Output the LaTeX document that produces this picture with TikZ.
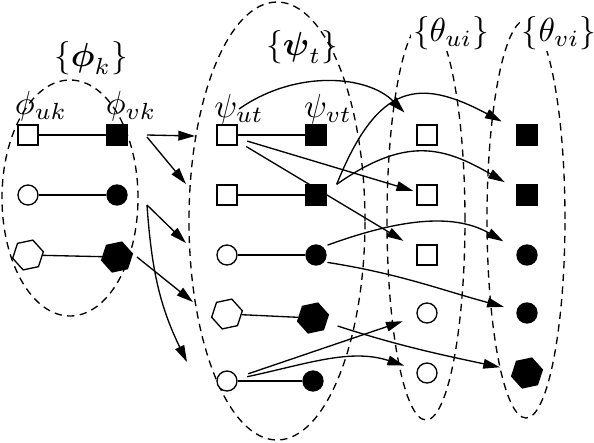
\documentclass[tikz,border=0pt]{standalone}
\usepackage{tikz}
\usetikzlibrary{shapes.geometric, arrows.meta}
\usepackage{amsmath}
\usepackage{amssymb}

\begin{document}
\begin{tikzpicture}[x=0.3pt, y=0.3pt,
  usq/.style={rectangle, draw, fill=white, minimum size=6pt, inner sep=0pt},
  vsq/.style={usq, fill=black},
  ucirc/.style={circle, draw, fill=white, minimum size=6pt, inner sep=0pt},
  vcirc/.style={ucirc, fill=black},
  uhex/.style={regular polygon, regular polygon sides=6, shape border rotate=12,
               draw, fill=white, minimum size=9.4pt, inner sep=0pt},
  vhex/.style={uhex, fill=black},
  setline/.style={dash pattern=on 2.2pt off 1.6pt},
  settitle/.style={fill=white, inner sep=0.5pt},
  arr/.style={-{Triangle[length=5pt, width=2.9pt]}, shorten >=4pt},
]
  \useasboundingbox (0,0) rectangle (594,-442);

  % the four sets
  \draw[setline] (70,-198) ellipse [x radius=68, y radius=118];
  \draw[setline] (277,-221) ellipse [x radius=88, y radius=219];
  \draw[setline] (426,-220) ellipse [x radius=39, y radius=200];
  \draw[setline] (526,-219) ellipse [x radius=39, y radius=199];

  \node (lphi) at (91,-58) {$\{\boldsymbol{\phi}_k\}$};
  \node (lphiu) at (41,-106) {$\phi_{uk}$};
  \node (lphiv) at (131,-106) {$\phi_{vk}$};
  \node (lpsi) at (302,-47) {$\{\boldsymbol{\psi}_t\}$};
  \node (lpsiu) at (239,-109) {$\psi_{ut}$};
  \node (lpsiv) at (328,-109) {$\psi_{vt}$};
  \node[settitle] (lthu) at (451,-33) {$\{\theta_{ui}\}$};
  \node[settitle] (lthv) at (559,-33) {$\{\theta_{vi}\}$};

  % phi pairs
  \node[usq] (phiu1) at (28,-135) {};
  \node[vsq] (phiv1) at (117,-135) {};
  \node[ucirc] (phiu2) at (28,-195) {};
  \node[vcirc] (phiv2) at (117,-195) {};
  \node[uhex] (phiu3) at (28,-255) {};
  \node[vhex] (phiv3) at (117,-257) {};

  % psi pairs
  \node[usq] (psiu1) at (227,-135) {};
  \node[vsq] (psiv1) at (316,-135) {};
  \node[usq] (psiu2) at (227,-195) {};
  \node[vsq] (psiv2) at (316,-195) {};
  \node[ucirc] (psiu3) at (227,-255) {};
  \node[vcirc] (psiv3) at (316,-255) {};
  \node[uhex] (psiu4) at (227,-314) {};
  \node[vhex] (psiv4) at (313,-318) {};
  \node[ucirc] (psiu5) at (227,-381) {};
  \node[vcirc] (psiv5) at (313,-381) {};

  % theta
  \node[usq] (thu1) at (427,-135) {};
  \node[usq] (thu2) at (427,-195) {};
  \node[usq] (thu3) at (427,-255) {};
  \node[ucirc] (thu4) at (427,-313) {};
  \node[ucirc] (thu5) at (427,-373) {};
  \node[vsq] (thv1) at (527,-135) {};
  \node[vsq] (thv2) at (527,-195) {};
  \node[vcirc] (thv3) at (527,-255) {};
  \node[vcirc] (thv4) at (527,-313) {};
  \node[vhex] (thv5) at (527,-373) {};

  \draw (phiu1) -- (phiv1);
  \draw (phiu2) -- (phiv2);
  \draw (phiu3) -- (phiv3);
  \draw (psiu1) -- (psiv1);
  \draw (psiu2) -- (psiv2);
  \draw (psiu3) -- (psiv3);
  \draw (psiu4) -- (psiv4);
  \draw (psiu5) -- (psiv5);

  % phi -> psi
  \coordinate (k1) at (147,-135);
  \coordinate (k2) at (147,-137);
  \coordinate (k3) at (147,-205);
  \coordinate (k4) at (137,-257);
  \coordinate (e1) at (195,-136);
  \coordinate (e2) at (186,-184);
  \coordinate (e3) at (186,-243);
  \coordinate (e4) at (193,-302);
  \coordinate (e5) at (187,-362);
  \draw[arr, shorten >=0pt] (k1) -- (e1);
  \draw[arr, shorten >=0pt] (k2) -- (e2);
  \draw[arr, shorten >=0pt] (k3) -- (e3);
  \draw[arr, shorten >=0pt] (k4) -- (e4);
  \draw[arr, shorten >=0pt] (k3) to[out=-86, in=116] (e5);

  % psi -> theta
  \draw[arr, shorten >=5pt] (lpsiu.center) to[out=35, in=135] (thu1);
  \draw[arr, shorten >=5pt] ([xshift=3pt]psiv2.north east) to[out=68, in=152, looseness=1.5] (thv1);
  \draw[arr] ([xshift=3pt]psiv2.north east) to[out=35, in=150, looseness=1.2] (thv2);
  \draw[arr, shorten <=3pt, shorten >=1pt] (psiu1) -- (thu2);
  \draw[arr, shorten <=3pt, shorten >=4.5pt] (psiu1) -- (thu3);
  \draw[arr, shorten <=1.5pt, shorten >=5pt] (psiv3.50) to[out=20, in=150] (thv3);
  \draw[arr, shorten <=1pt] (psiv3.-40) to[out=-9, in=165] (thv4);
  \draw[arr, shorten <=3.5pt] (psiv4) to[out=-18, in=168] (thv5);
  \draw[arr, shorten <=3.5pt, shorten >=4.5pt] (psiu5) -- (thu4);
  \draw[arr, shorten <=3pt] (psiu5) to[out=12, in=162] (thu5);
\end{tikzpicture}
\end{document}
